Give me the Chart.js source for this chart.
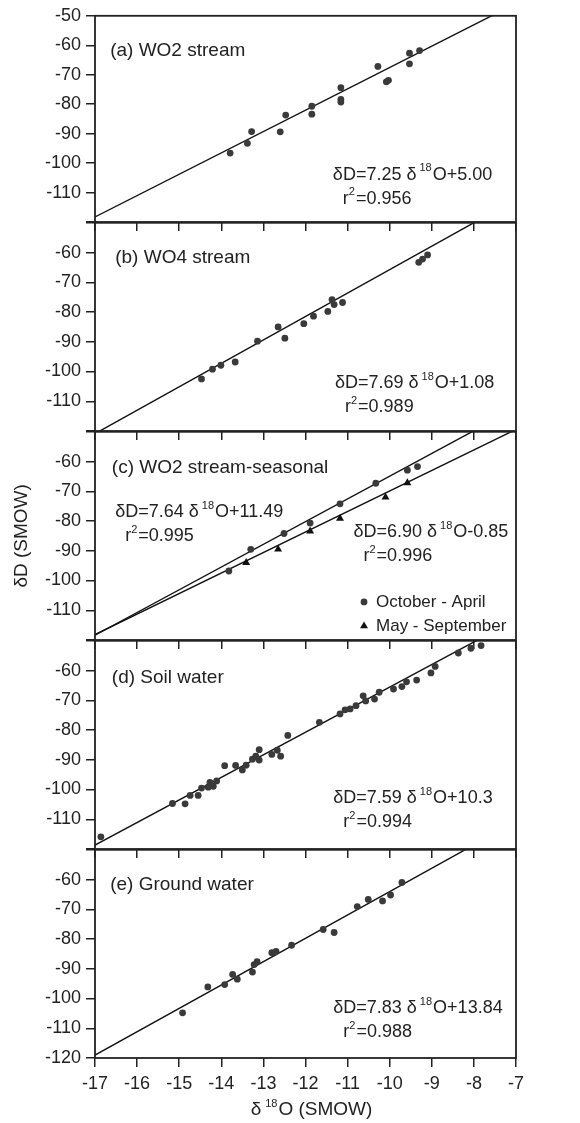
<!DOCTYPE html>
<html>
<head>
<meta charset="utf-8">
<script src="https://cdn.jsdelivr.net/npm/chart.js@4/dist/chart.umd.min.js"></script>
<style>
  html, body { margin: 0; padding: 0; background: #fff; overflow: hidden; }
  #wrap { position: relative; width: 580px; height: 1123px; }
  .panel { position: absolute; left: 0; width: 580px; }
</style>
</head>
<body>
<div id="wrap"></div>
<script>
// delta 18O (x) against delta D (y), per mil SMOW
const xTicks = [-17, -16, -15, -14, -13, -12, -11, -10, -9, -8, -7];
const yTicks = [-120, -110, -100, -90, -80, -70, -60, -50];

// (a) WO2 stream
const wo2X = [-13.79, -13.38, -13.28, -12.60, -12.47, -11.85, -11.85, -11.16, -11.16, -11.16, -10.28, -10.08, -10.03, -9.53, -9.53, -9.29];
const wo2Y = [-96.6, -93.3, -89.3, -89.4, -83.7, -80.7, -83.4, -74.4, -78.4, -79.3, -67.2, -72.4, -71.9, -62.7, -66.3, -61.8];
const wo2FitX = [-17, -7];
const wo2FitY = [-118.3, -45.8];

// (b) WO4 stream
const wo4X = [-14.47, -14.21, -14.01, -13.67, -13.14, -12.65, -12.49, -12.04, -11.81, -11.47, -11.37, -11.32, -11.12, -9.31, -9.22, -9.10];
const wo4Y = [-102.5, -99.2, -97.9, -96.8, -89.8, -85.0, -88.8, -83.9, -81.4, -79.8, -75.8, -77.5, -76.8, -63.3, -62.2, -60.8];
const wo4FitX = [-17, -7];
const wo4FitY = [-120.9, -42.1];

// (c) WO2 stream, split by season
const winterX = [-13.82, -13.30, -12.51, -11.89, -11.18, -10.33, -9.58, -9.34];
const winterY = [-96.8, -89.5, -84.2, -80.7, -74.2, -67.3, -62.9, -61.7];
const summerX = [-13.41, -12.65, -11.89, -11.18, -10.10, -9.58];
const summerY = [-94.0, -89.5, -83.4, -79.1, -72.0, -67.2];
const winterFitX = [-17, -7];
const winterFitY = [-118.4, -42.0];
const summerFitX = [-17, -7];
const summerFitY = [-118.2, -49.2];

// (d) soil water
const soilX = [-16.86, -15.16, -14.86, -14.74, -14.55, -14.47, -14.31, -14.27, -14.19, -14.11, -13.92, -13.66, -13.50, -13.41,
  -13.26, -13.18, -13.10, -13.10, -12.80, -12.67, -12.59, -12.42, -11.67, -11.18, -11.06, -10.94, -10.80, -10.63, -10.57,
  -10.36, -10.25, -9.91, -9.71, -9.60, -9.36, -9.02, -8.92, -8.37, -8.07, -7.83];
const soilY = [-115.9, -104.7, -104.8, -102.0, -102.0, -99.5, -99.2, -97.6, -98.9, -97.1, -92.0, -91.9, -93.4, -91.8,
  -89.8, -88.8, -86.6, -90.1, -88.2, -86.8, -88.8, -81.8, -77.4, -74.6, -73.2, -72.9, -71.8, -68.5, -70.2,
  -69.6, -67.3, -66.2, -65.4, -63.8, -63.2, -60.8, -58.6, -54.1, -52.5, -51.6];
const soilFitX = [-17, -7];
const soilFitY = [-118.7, -42.8];

// (e) ground water
const groundX = [-14.92, -14.32, -13.92, -13.73, -13.62, -13.26, -13.22, -13.15, -12.80, -12.70, -12.33, -11.58, -11.32, -10.77, -10.51, -10.17, -9.98, -9.71];
const groundY = [-104.8, -96.1, -95.3, -91.9, -93.5, -91.1, -88.6, -87.6, -84.6, -84.2, -82.1, -76.8, -77.8, -69.1, -66.7, -67.2, -65.2, -61.0];
const groundFitX = [-17, -7];
const groundFitY = [-119.0, -40.5];

const FONT = "'Liberation Sans', Arial, Helvetica, sans-serif";
const INK = '#222';
const DOT = '#3a3a3a';

Chart.defaults.font.family = FONT;
Chart.defaults.color = INK;

function pts(xs, ys) {
  return xs.map((v, i) => ({ x: v, y: ys[i] }));
}
function dots(xs, ys) {
  return { data: pts(xs, ys), pointRadius: 3.4, pointStyle: 'circle', backgroundColor: DOT, borderWidth: 0 };
}
function tris(xs, ys) {
  return { data: pts(xs, ys), pointRadius: 4.6, pointStyle: 'triangle', backgroundColor: '#111', borderWidth: 0 };
}
function fit(xs, ys) {
  return { data: pts(xs, ys), showLine: true, borderColor: '#111', borderWidth: 1.4, pointRadius: 0, clip: 0 };
}

const panels = [
  { id: 'a', top: 15, bottom: 222, xh: 16, hideY: [-120], title: '(a) WO2 stream', titleAt: [-16.64, -61.8],
    eqs: [{ at: [-11.35, -104.0], slope: '7.25', icpt: '+5.00', r2: '0.956' }],
    sets: [dots(wo2X, wo2Y), fit(wo2FitX, wo2FitY)] },
  { id: 'b', top: 222, bottom: 431, xh: 16, hideY: [-50, -120], title: '(b) WO4 stream', titleAt: [-16.52, -61.8],
    eqs: [{ at: [-11.30, -104.0], slope: '7.69', icpt: '+1.08', r2: '0.989' }],
    sets: [dots(wo4X, wo4Y), fit(wo4FitX, wo4FitY)] },
  { id: 'c', top: 431, bottom: 640, xh: 16, hideY: [-50, -120], title: '(c) WO2 stream-seasonal', titleAt: [-16.6, -62.0],
    eqs: [{ at: [-16.52, -77.0], slope: '7.64', icpt: '+11.49', r2: '0.995' },
          { at: [-10.86, -83.7], slope: '6.90', icpt: '-0.85', r2: '0.996' }],
    legend: [{ label: 'October - April', shape: 'circle', at: [-10.61, -107.2] },
             { label: 'May - September', shape: 'triangle', at: [-10.61, -115.3] }],
    sets: [dots(winterX, winterY), tris(summerX, summerY), fit(winterFitX, winterFitY), fit(summerFitX, summerFitY)] },
  { id: 'd', top: 640, bottom: 849, xh: 16, hideY: [-50, -120], title: '(d) Soil water', titleAt: [-16.6, -62.3],
    eqs: [{ at: [-11.34, -103.0], slope: '7.59', icpt: '+10.3', r2: '0.994' }],
    sets: [dots(soilX, soilY), fit(soilFitX, soilFitY)] },
  { id: 'e', top: 849, bottom: 1058, xh: 65, hideY: [-50], title: '(e) Ground water', titleAt: [-16.64, -61.6],
    eqs: [{ at: [-11.34, -103.3], slope: '7.83', icpt: '+13.84', r2: '0.988' }],
    sets: [dots(groundX, groundY), fit(groundFitX, groundFitY)], xTitle: true }
];

// draws a run of text pieces: [text, isSuperscript, gapAfter]
function rich(ctx, x, y, parts, size) {
  let cx = x;
  parts.forEach(([txt, sup, gap]) => {
    ctx.font = (sup ? 11 : size) + 'px ' + FONT;
    ctx.fillText(txt, cx, sup ? y - 6.5 : y);
    cx += ctx.measureText(txt).width + (gap || 0);
  });
  return cx - x;
}

function decorations(p) {
  return {
    id: 'decor' + p.id,
    afterDatasetsDraw(chart) {
      const { ctx, chartArea: a, scales: { x, y } } = chart;
      ctx.save();
      ctx.strokeStyle = INK;
      ctx.lineWidth = 1.8;
      ctx.strokeRect(a.left, a.top, a.right - a.left, a.bottom - a.top);

      ctx.fillStyle = INK;
      ctx.textAlign = 'left';
      ctx.textBaseline = 'middle';
      ctx.font = '19px ' + FONT;
      ctx.fillText(p.title, x.getPixelForValue(p.titleAt[0]), y.getPixelForValue(p.titleAt[1]));

      p.eqs.forEach(eq => {
        const ex = x.getPixelForValue(eq.at[0]);
        const ey = y.getPixelForValue(eq.at[1]);
        rich(ctx, ex, ey, [['\u03b4D=' + eq.slope + ' \u03b4', false, 3], ['18', true, 1], ['O' + eq.icpt, false]], 18);
        rich(ctx, ex + 10, ey + 24, [['r', false], ['2', true, 1], ['=' + eq.r2, false]], 18);
      });

      (p.legend || []).forEach(item => {
        const lx = x.getPixelForValue(item.at[0]);
        const ly = y.getPixelForValue(item.at[1]);
        ctx.beginPath();
        if (item.shape === 'circle') {
          ctx.fillStyle = DOT;
          ctx.arc(lx, ly, 3.4, 0, Math.PI * 2);
        } else {
          ctx.fillStyle = '#111';
          ctx.moveTo(lx, ly - 4.6);
          ctx.lineTo(lx + 4.0, ly + 2.3);
          ctx.lineTo(lx - 4.0, ly + 2.3);
          ctx.closePath();
        }
        ctx.fill();
        ctx.fillStyle = INK;
        ctx.font = '17px ' + FONT;
        ctx.fillText(item.label, lx + 12, ly);
      });

      if (p.xTitle) {
        const parts = [['\u03b4', false, 4], ['18', true, 1], ['O (SMOW)', false]];
        const probe = document.createElement('canvas').getContext('2d');
        const w = rich(probe, 0, 0, parts, 19);
        rich(ctx, (a.left + a.right) / 2 + 6 - w / 2, a.bottom + 52, parts, 19);
      }
      ctx.restore();
    }
  };
}

const wrap = document.getElementById('wrap');

panels.forEach(p => {
  const div = document.createElement('div');
  div.className = 'panel';
  div.style.top = (p.top - 15) + 'px';
  div.style.height = (15 + p.bottom - p.top + p.xh) + 'px';
  const canvas = document.createElement('canvas');
  div.appendChild(canvas);
  wrap.appendChild(div);

  const tickGrid = { drawOnChartArea: false, drawTicks: true, tickLength: 9, color: INK, lineWidth: 1.5 };

  new Chart(canvas, {
    type: 'scatter',
    data: { datasets: p.sets },
    options: {
      responsive: true,
      maintainAspectRatio: false,
      animation: false,
      layout: { padding: { top: 15, right: 64, bottom: 0, left: 0 } },
      plugins: { legend: { display: false }, tooltip: { enabled: false } },
      scales: {
        x: {
          type: 'linear',
          min: -17,
          max: -7,
          afterBuildTicks: s => { s.ticks = xTicks.map(v => ({ value: v })); },
          afterFit: s => { s.height = p.xh; },
          grid: tickGrid,
          border: { display: false },
          ticks: { display: !!p.xTitle, font: { size: 18 }, padding: 6, color: INK }
        },
        y: {
          type: 'linear',
          min: -120,
          max: -50,
          afterBuildTicks: s => { s.ticks = yTicks.map(v => ({ value: v })); },
          afterFit: s => { s.width = 95; },
          grid: tickGrid,
          border: { display: false },
          ticks: {
            font: { size: 18 },
            padding: 5,
            color: INK,
            callback: v => (p.hideY.includes(v) ? '' : String(v))
          },
          title: {
            display: p.id === 'c',
            text: '\u03b4D (SMOW)',
            font: { size: 19 },
            color: INK,
            padding: { top: 10, bottom: 0 }
          }
        }
      }
    },
    plugins: [decorations(p)]
  });
});
</script>
</body>
</html>
